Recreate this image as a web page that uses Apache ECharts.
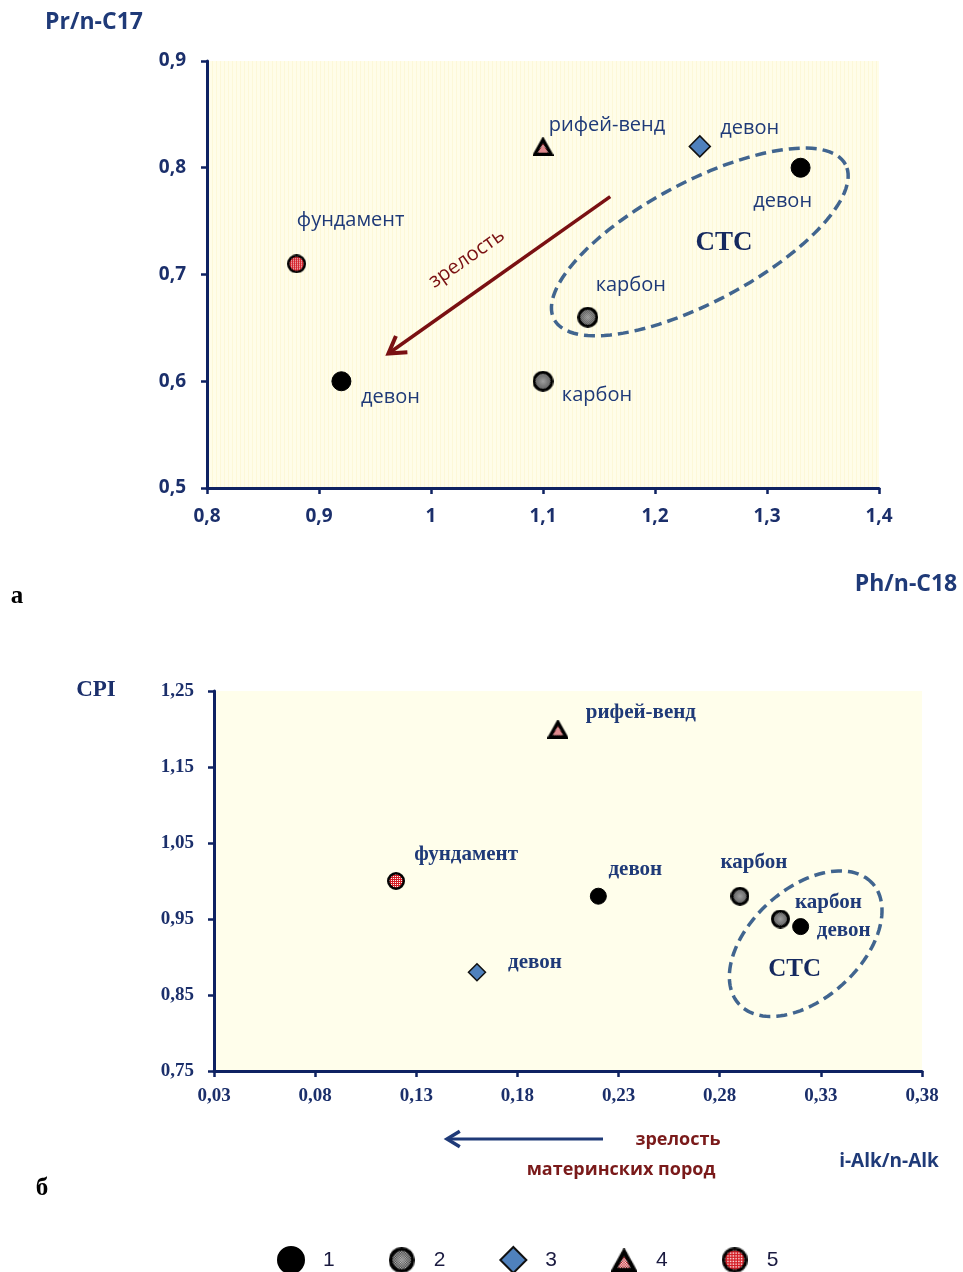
<!DOCTYPE html>
<html>
<head>
<meta charset="utf-8">
<script src="https://cdn.jsdelivr.net/npm/echarts@6/dist/echarts.min.js"></script>
<style>
  html, body { margin: 0; padding: 0; background: #ffffff; }
  #chart { width: 963px; height: 1272px; }
</style>
</head>
<body>
<div id="chart"></div>
<script>
// ---------- DATA: chart (а)  Pr/n-C17 vs Ph/n-C18 ----------
const topXTicks = [0.8, 0.9, 1.0, 1.1, 1.2, 1.3, 1.4];
const topYTicks = [0.5, 0.6, 0.7, 0.8, 0.9];
const topType1 = [[0.92, 0.60], [1.33, 0.80]];
const topType1Names = ['девон', 'девон'];
const topType2 = [[1.10, 0.60], [1.14, 0.66]];
const topType2Names = ['карбон', 'карбон'];
const topType3 = [[1.24, 0.82]];
const topType3Names = ['девон'];
const topType4 = [[1.10, 0.82]];
const topType4Names = ['рифей-венд'];
const topType5 = [[0.88, 0.71]];
const topType5Names = ['фундамент'];

// ---------- DATA: chart (б)  CPI vs i-Alk/n-Alk ----------
const botXTicks = [0.03, 0.08, 0.13, 0.18, 0.23, 0.28, 0.33, 0.38];
const botYTicks = [0.75, 0.85, 0.95, 1.05, 1.15, 1.25];
const botType1 = [[0.22, 0.98], [0.32, 0.94]];
const botType1Names = ['девон', 'девон'];
const botType2 = [[0.29, 0.98], [0.31, 0.95]];
const botType2Names = ['карбон', 'карбон'];
const botType3 = [[0.16, 0.88]];
const botType3Names = ['девон'];
const botType4 = [[0.20, 1.20]];
const botType4Names = ['рифей-венд'];
const botType5 = [[0.12, 1.00]];
const botType5Names = ['фундамент'];

const legendNames = ['1', '2', '3', '4', '5'];

// ---------- label offsets (style, pixels from marker centre) ----------
const topOff1 = [[49, 16], [-18, 34]];
const topOff2 = [[54, 14], [43, -32]];
const topOff3 = [[50, -18]];
const topOff4 = [[64, -21]];
const topOff5 = [[54, -44]];
const botOff1 = [[37, -27], [43, 4]];
const botOff2 = [[14, -34], [48, -16]];
const botOff3 = [[58, -10]];
const botOff4 = [[83, -16]];
const botOff5 = [[70, -26]];

// ---------- styles ----------
const NAVY = '#1b2f6b';
const AXIS = '#0e2262';
const LABEL_NAVY = '#1f3a78';
const DARKRED = '#7a1012';
const SANS = '"Open Sans", "Noto Sans", "DejaVu Sans", sans-serif';
const SERIF = '"Liberation Serif", "DejaVu Serif", serif';

function stripes() {
  const cv = document.createElement('canvas');
  cv.width = 4; cv.height = 4;
  const ctx = cv.getContext('2d');
  ctx.fillStyle = '#fffde9'; ctx.fillRect(0, 0, 4, 4);
  ctx.fillStyle = '#fdf8d8'; ctx.fillRect(0, 0, 1, 4);
  return { image: cv, repeat: 'repeat' };
}

// marker images (checkered fills)
function fillChecker(ctx, w, h, c1, c2, mode) {
  for (let y = 0; y < h; y++) {
    for (let x = 0; x < w; x++) {
      let alt;
      if (mode === 'dots') alt = (x % 2 === 0 && y % 2 === 0);
      else alt = ((x + y) % 2 === 0);
      ctx.fillStyle = alt ? c2 : c1;
      ctx.fillRect(x, y, 1, 1);
    }
  }
}
function circleMarker(size, c1, c2, mode, bw, glow) {
  const cv = document.createElement('canvas');
  cv.width = cv.height = size;
  const ctx = cv.getContext('2d');
  const r = size / 2;
  ctx.save();
  ctx.beginPath(); ctx.arc(r, r, r - 1, 0, Math.PI * 2); ctx.clip();
  fillChecker(ctx, size, size, c1, c2, mode);
  if (glow) {
    const g = ctx.createRadialGradient(r, r, 0, r, r, r);
    g.addColorStop(0, 'rgba(255,255,255,0.35)');
    g.addColorStop(0.55, 'rgba(255,255,255,0.05)');
    g.addColorStop(1, 'rgba(0,0,0,0.35)');
    ctx.fillStyle = g; ctx.fillRect(0, 0, size, size);
  }
  ctx.restore();
  ctx.beginPath(); ctx.arc(r, r, r - bw / 2, 0, Math.PI * 2);
  ctx.lineWidth = bw; ctx.strokeStyle = '#000'; ctx.stroke();
  return 'image://' + cv.toDataURL();
}
function triangleMarker(w, h, c1, c2, bw) {
  const cv = document.createElement('canvas');
  cv.width = w; cv.height = h;
  const ctx = cv.getContext('2d');
  const pad = bw * 0.9;
  const path = () => {
    ctx.beginPath();
    ctx.moveTo(w / 2, pad * 0.9);
    ctx.lineTo(w - pad * 0.75, h - pad / 2);
    ctx.lineTo(pad * 0.75, h - pad / 2);
    ctx.closePath();
  };
  ctx.save(); path(); ctx.clip();
  fillChecker(ctx, w, h, c1, c2, 'checker');
  ctx.restore();
  path(); ctx.lineWidth = bw; ctx.lineJoin = 'miter'; ctx.strokeStyle = '#000'; ctx.stroke();
  return 'image://' + cv.toDataURL();
}

const RED = '#d41c24';
const topGreySym = circleMarker(21, '#a8a8a8', '#2e2e2e', 'checker', 3, true);
const botGreySym = circleMarker(19, '#a8a8a8', '#2e2e2e', 'checker', 3, true);
const topRedSym = circleMarker(19, RED, '#ffffff', 'dots', 2.5, false);
const botRedSym = circleMarker(18, RED, '#ffffff', 'dots', 2.5, false);
const topTriSym = triangleMarker(21, 19, '#c0141c', '#ffffff', 3.5);
const botTriSym = triangleMarker(21, 19, '#c0141c', '#ffffff', 3.5);

function makeSeries(gi, pts, names, offs, name, symbol, size, itemStyle, labelStyle) {
  return {
    type: 'scatter',
    name: name,
    xAxisIndex: gi, yAxisIndex: gi,
    symbol: symbol,
    symbolSize: size,
    itemStyle: Object.assign({ opacity: 1 }, itemStyle),
    emphasis: { disabled: true },
    z: 5,
    data: pts.map((p, i) => ({
      value: p,
      name: names[i],
      label: {
        show: true,
        position: 'inside',
        offset: offs[i],
        formatter: '{b}',
        align: 'center',
        verticalAlign: 'middle',
        color: LABEL_NAVY,
        opacity: 1,
        ...labelStyle
      }
    }))
  };
}

const topLabel = { fontFamily: SANS, fontSize: 20, fontWeight: 'normal' };
const botLabel = { fontFamily: SERIF, fontSize: 21, fontWeight: 'bold' };
const blackStyle = { color: '#000000', borderColor: '#000000', borderWidth: 1 };
const blueStyle = { color: '#4f81bd', borderColor: '#111111', borderWidth: 1.5 };
const imgStyle = { color: '#888888' };

const series = [
  makeSeries(0, topType1, topType1Names, topOff1, '1', 'circle', 19, blackStyle, topLabel),
  makeSeries(0, topType2, topType2Names, topOff2, '2', topGreySym, 21, imgStyle, topLabel),
  makeSeries(0, topType3, topType3Names, topOff3, '3', 'diamond', [21, 21], blueStyle, topLabel),
  makeSeries(0, topType4, topType4Names, topOff4, '4', topTriSym, [21, 19], imgStyle, topLabel),
  makeSeries(0, topType5, topType5Names, topOff5, '5', topRedSym, 19, imgStyle, topLabel),
  makeSeries(1, botType1, botType1Names, botOff1, '1', 'circle', 16, blackStyle, botLabel),
  makeSeries(1, botType2, botType2Names, botOff2, '2', botGreySym, 19, imgStyle, botLabel),
  makeSeries(1, botType3, botType3Names, botOff3, '3', 'diamond', [17, 17], blueStyle, botLabel),
  makeSeries(1, botType4, botType4Names, botOff4, '4', botTriSym, [21, 19], imgStyle, botLabel),
  makeSeries(1, botType5, botType5Names, botOff5, '5', botRedSym, 18, imgStyle, botLabel)
];

function axisCommon(fontFamily, fontSize, margin, fmt) {
  return {
    type: 'value',
    axisLine: { show: true, onZero: false, lineStyle: { color: AXIS, width: 3 } },
    axisTick: { show: true, inside: false, length: 6, lineStyle: { color: AXIS, width: 2.5 } },
    splitLine: { show: false },
    axisLabel: { color: NAVY, fontFamily: fontFamily, fontSize: fontSize, fontWeight: 'bold', margin: margin, formatter: fmt }
  };
}
const fmt1 = v => String(Math.round(v * 10) / 10).replace('.', ',');
const fmt2 = v => v.toFixed(2).replace('.', ',');

const xAxes = [
  Object.assign(axisCommon(SANS, 19, 19, fmt1), { gridIndex: 0, min: topXTicks[0], max: topXTicks[topXTicks.length - 1], interval: 0.1 }),
  Object.assign(axisCommon(SERIF, 19, 16, fmt2), { gridIndex: 1, min: botXTicks[0], max: botXTicks[botXTicks.length - 1], interval: 0.05 })
];
const yAxes = [
  Object.assign(axisCommon(SANS, 19, 21, fmt1), { gridIndex: 0, min: topYTicks[0], max: topYTicks[topYTicks.length - 1], interval: 0.1 }),
  Object.assign(axisCommon(SERIF, 19, 20, fmt2), { gridIndex: 1, min: botYTicks[0], max: botYTicks[botYTicks.length - 1], interval: 0.1 })
];

const chart = echarts.init(document.getElementById('chart'), null, { renderer: 'canvas' });

const option = {
  backgroundColor: '#ffffff',
  animation: false,
  grid: [
    { left: 207, top: 61, width: 672, height: 427, show: true, backgroundColor: stripes(), borderWidth: 0 },
    { left: 214, top: 691, width: 708, height: 380, show: true, backgroundColor: '#fffeeb', borderWidth: 0 }
  ],
  xAxis: xAxes,
  yAxis: yAxes,
  legend: {
    data: legendNames,
    left: 272, top: 1241,
    itemWidth: 26, itemHeight: 26,
    itemGap: 54,
    textStyle: { fontFamily: '"Liberation Sans", Arial, sans-serif', fontSize: 21, color: '#1a1a40', padding: [0, 0, 0, 14] },
    selectedMode: false
  },
  series: series
};
chart.setOption(option);

// ---------- annotations (arrows, ellipses, axis titles) ----------
function ellipsePts(cx, cy, a, b, deg) {
  const th = deg * Math.PI / 180, pts = [];
  for (let i = 0; i <= 120; i++) {
    const t = i / 120 * 2 * Math.PI;
    const ex = a * Math.cos(t), ey = b * Math.sin(t);
    pts.push([cx + ex * Math.cos(th) - ey * Math.sin(th), cy - (ex * Math.sin(th) + ey * Math.cos(th))]);
  }
  return pts;
}
function arrow(x1, y1, x2, y2, color, w, head) {
  const ang = Math.atan2(y2 - y1, x2 - x1);
  const h1 = [x2 - head * Math.cos(ang - 0.55), y2 - head * Math.sin(ang - 0.55)];
  const h2 = [x2 - head * Math.cos(ang + 0.55), y2 - head * Math.sin(ang + 0.55)];
  return [
    { type: 'line', shape: { x1: x1, y1: y1, x2: x2, y2: y2 }, style: { stroke: color, lineWidth: w }, z: 10 },
    { type: 'polyline', shape: { points: [h1, [x2, y2], h2] }, style: { stroke: color, lineWidth: w + 0.5, fill: null, lineJoin: 'miter' }, z: 10 }
  ];
}
const p = (gi, v) => chart.convertToPixel({ gridIndex: gi }, v);

const topEllC = p(0, [1.24, 0.7305]);
const botEllC = p(1, [0.3225, 0.9175]);
const topArrA = p(0, [1.16, 0.773]);
const topArrB = p(0, [0.962, 0.626]);
const topCTC = p(0, [1.2616, 0.7295]);
const botCTC = p(1, [0.317, 0.883]);
const topArrLbl = p(0, [1.032, 0.715]);

const graphics = [
  { type: 'polyline', shape: { points: ellipsePts(topEllC[0], topEllC[1], 165, 60, 28) },
    style: { stroke: '#41658f', lineWidth: 3.5, lineDash: [11, 6], fill: null }, z: 9 },
  { type: 'polyline', shape: { points: ellipsePts(botEllC[0], botEllC[1], 90, 55, 42) },
    style: { stroke: '#41658f', lineWidth: 3.5, lineDash: [11, 6], fill: null }, z: 9 },
  ...arrow(topArrA[0], topArrA[1], topArrB[0], topArrB[1], DARKRED, 3.5, 19),
  ...arrow(603, 1139, 447, 1139, '#1f3a78', 3, 15),
  { type: 'text', x: topArrLbl[0], y: topArrLbl[1], rotation: 35 * Math.PI / 180, z: 10,
    style: { text: 'зрелость', fill: DARKRED, font: '20px ' + SANS, align: 'center', verticalAlign: 'middle' } },
  { type: 'text', x: topCTC[0], y: topCTC[1], z: 10,
    style: { text: 'СТС', fill: '#15295f', font: 'bold 27px ' + SERIF, align: 'center', verticalAlign: 'middle' } },
  { type: 'text', x: botCTC[0], y: botCTC[1], z: 10,
    style: { text: 'СТС', fill: '#15295f', font: 'bold 25px ' + SERIF, align: 'center', verticalAlign: 'middle' } },
  { type: 'text', x: 94, y: 22, z: 10,
    style: { text: 'Pr/n-C17', fill: '#1f3a78', font: 'bold 23px ' + SANS, align: 'center', verticalAlign: 'middle' } },
  { type: 'text', x: 906, y: 584, z: 10,
    style: { text: 'Ph/n-C18', fill: '#1f3a78', font: 'bold 23px ' + SANS, align: 'center', verticalAlign: 'middle' } },
  { type: 'text', x: 17, y: 597, z: 10,
    style: { text: 'а', fill: '#000000', font: 'bold 25px ' + SERIF, align: 'center', verticalAlign: 'middle' } },
  { type: 'text', x: 96, y: 690, z: 10,
    style: { text: 'CPI', fill: '#1b2f6b', font: 'bold 23px ' + SERIF, align: 'center', verticalAlign: 'middle' } },
  { type: 'text', x: 889, y: 1162, z: 10,
    style: { text: 'i-Alk/n-Alk', fill: '#1f3a78', font: 'bold 19px ' + SANS, align: 'center', verticalAlign: 'middle' } },
  { type: 'text', x: 678, y: 1140, z: 10,
    style: { text: 'зрелость', fill: '#7a1a1a', font: 'bold 18px ' + SANS, align: 'center', verticalAlign: 'middle' } },
  { type: 'text', x: 621, y: 1170, z: 10,
    style: { text: 'материнских пород', fill: '#7a1a1a', font: 'bold 18px ' + SANS, align: 'center', verticalAlign: 'middle' } },
  { type: 'text', x: 42, y: 1189, z: 10,
    style: { text: 'б', fill: '#000000', font: 'bold 25px ' + SERIF, align: 'center', verticalAlign: 'middle' } }
];
chart.setOption({ graphic: { elements: graphics } });
</script>
</body>
</html>
